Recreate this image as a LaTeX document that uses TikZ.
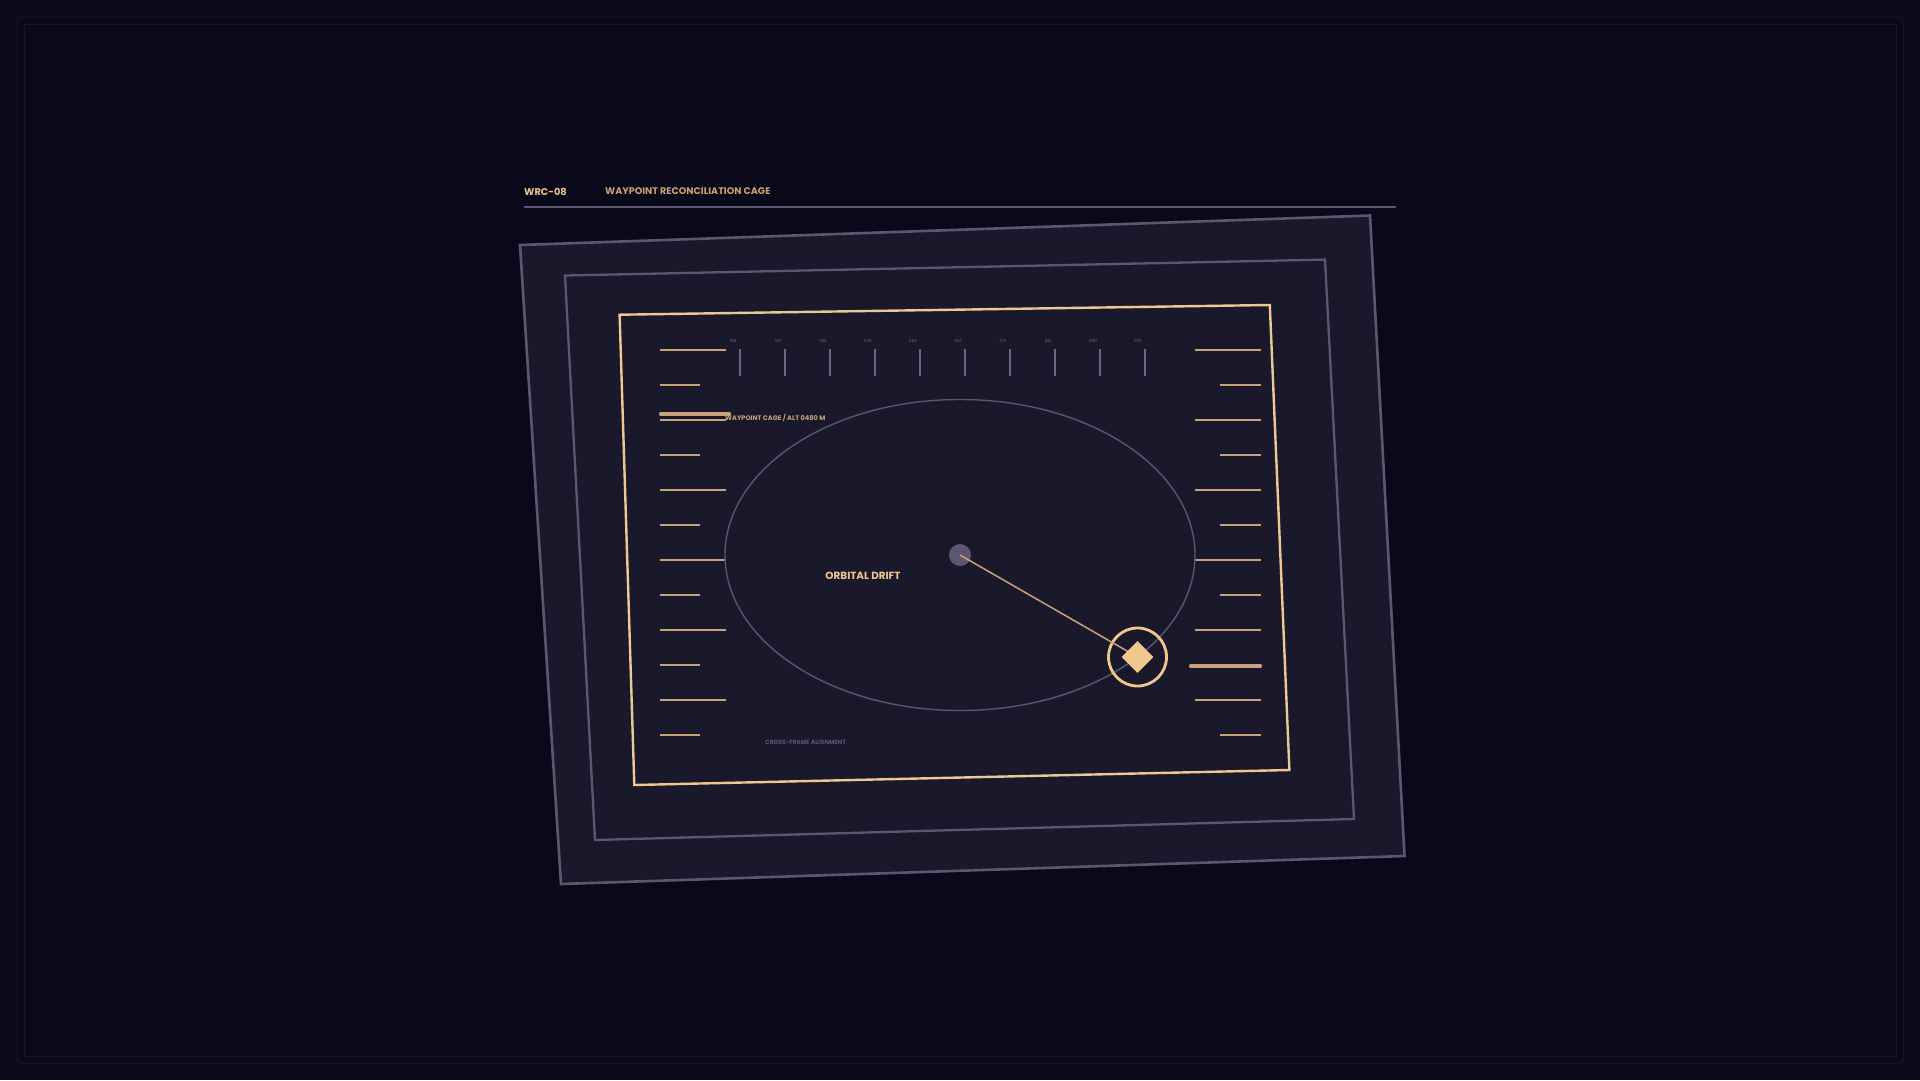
\documentclass[tikz,border=0pt]{standalone}
\usepackage{fontspec}
\usetikzlibrary{shapes.geometric}
\setmainfont{Poppins}
\definecolor{bg}{HTML}{0A0919}
\definecolor{panel}{HTML}{1A192C}
\definecolor{framegrey}{HTML}{5E5572}
\definecolor{gold}{HTML}{EFC88E}
\definecolor{tickgold}{HTML}{C9A27A}
\definecolor{headgold}{HTML}{E9C38D}
\definecolor{headgold2}{HTML}{C9A074}
\definecolor{vtick}{HTML}{6B6680}
\definecolor{ellgrey}{HTML}{5A566E}
\definecolor{faint}{HTML}{17162A}
\tikzset{
  frameline/.style={draw=framegrey, line width=2.6pt, fill=panel, line join=miter},
  goldframe/.style={draw=gold, line width=2.4pt, line join=miter},
  tickline/.style={draw=tickgold, line width=1.8pt},
  hiline/.style={draw=tickgold, line width=4.2pt, line cap=round},
  vtickline/.style={draw=vtick, line width=1.6pt},
  ticklabel/.style={text=vtick, font=\fontsize{4}{4}\selectfont, inner sep=0pt},
}
\begin{document}
\begin{tikzpicture}[x=1pt,y=-1pt]
\useasboundingbox (0,0) rectangle (1920,1080);
\fill[bg] (0,0) rectangle (1920,1080);
% faint border lines
\draw[faint, line width=1pt, rounded corners=3pt] (17,17) rectangle (1903,1063);
\draw[faint, line width=1pt] (24,24) rectangle (1896,1056);
% header
\node[anchor=west, text=headgold, font=\fontsize{9.8}{10}\selectfont\bfseries, inner sep=0pt] (code) at (524,191.5) {WRC-08};
\node[anchor=west, text=headgold2, font=\fontsize{9.6}{10}\selectfont\bfseries, inner sep=0pt] (title) at (605,191.5) {WAYPOINT RECONCILIATION CAGE};
\coordinate (hl1) at (524,207);
\coordinate (hl2) at (1396,207);
\draw[framegrey, line width=1.6pt] (hl1) -- (hl2);
% frames
\draw[frameline] (520,245) -- (1370,215.5) -- (1404.5,856) -- (561,884) -- cycle;
\draw[frameline, line width=2.3pt] (565,275.5) -- (1325,259.6) -- (1354,819) -- (595,840) -- cycle;
\draw[goldframe] (619.6,314.7) -- (1269.8,305) -- (1289.4,770) -- (634.3,785) -- cycle;
% side ticks
\foreach \k in {0,...,11}{
  \pgfmathsetmacro{\yy}{350+35*\k}
  \ifodd\k
    \draw[tickline] (660,\yy) -- (700,\yy);
    \draw[tickline] (1220,\yy) -- (1261,\yy);
  \else
    \draw[tickline] (660,\yy) -- (726,\yy);
    \draw[tickline] (1195,\yy) -- (1261,\yy);
  \fi
}
\draw[hiline] (661,414) -- (729,414);
\draw[hiline] (1191,666) -- (1260,666);
% top ticks
\foreach \k/\lab in {0/018,1/027,2/036,3/045,4/054,5/063,6/072,7/081,8/090,9/099}{
  \pgfmathsetmacro{\xx}{740+45*\k}
  \draw[vtickline] (\xx,349) -- (\xx,376);
  \node[ticklabel] at (\xx-7,341) {\lab};
}
% ellipse
\node[draw=ellgrey, line width=1.4pt, ellipse, minimum width=470pt, minimum height=311pt, inner sep=0pt] (orbit) at (960,555) {};
% labels
\node[anchor=west, text=tickgold, font=\fontsize{6.6}{7}\selectfont\bfseries, inner sep=0pt] (cage) at (725,417.5) {WAYPOINT CAGE / ALT 0480 M};
\node[text=gold, font=\fontsize{10.4}{11}\selectfont\bfseries, inner sep=0pt] (drift) at (863,576) {ORBITAL DRIFT};
\node[anchor=west, text=ellgrey, font=\fontsize{6}{7}\selectfont\bfseries, inner sep=0pt] (cross) at (765,742.5) {CROSS-FRAME ALIGNMENT};
% center and target
\node[circle, fill=framegrey, minimum size=22pt, inner sep=0pt] (center) at (960,555) {};
\node[circle, draw=gold, line width=2.8pt, minimum size=58pt, inner sep=0pt] (target) at (1137.5,657) {};
\draw[tickgold, line width=1.5pt] (center.center) -- (target.center);
\node[diamond, fill=gold, minimum size=32pt, inner sep=0pt] (wp) at (1137.5,657) {};
\end{tikzpicture}
\end{document}
